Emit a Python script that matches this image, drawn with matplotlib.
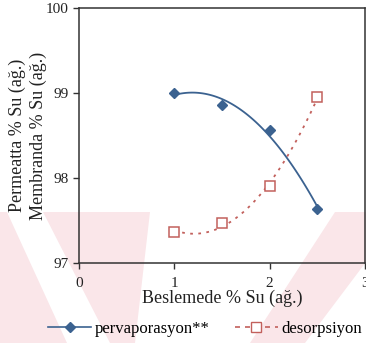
"""
Beslemedeki su oranına karşı permeat / membran su oranı grafiği
"""

import matplotlib
matplotlib.use("Agg")
import matplotlib.pyplot as plt
import numpy as np
from matplotlib.patches import Polygon, Rectangle

plt.rcParams["font.family"] = ["Liberation Serif", "DejaVu Serif"]

# veri
besleme = [1.0, 1.5, 2.0, 2.5]
pervaporasyon = [99.00, 98.86, 98.56, 97.64]
desorpsiyon = [97.37, 97.47, 97.90, 98.95]

x_ticks = [0, 1, 2, 3]
y_ticks = [97, 98, 99, 100]

BLUE = "#3b6290"
RED = "#c2605c"
PINK = "#fae6e9"

W, H = 366, 343
fig = plt.figure(figsize=(W / 100, H / 100), dpi=100)

# arka plandaki soluk filigran (pembe bant + beyaz bölgeler), piksel cinsinden
band = Rectangle((0, 0), 1, 1 - 212 / H, transform=fig.transFigure,
                 facecolor=PINK, edgecolor="none", zorder=-2)
fig.patches.append(band)
beyaz = [
    [(7, 212), (43, 212), (110, 343), (67, 343)],
    [(150, 212), (335, 212), (250, 343), (135, 343)],
    [(366, 262), (366, 343), (305, 343)],
]
for poly in beyaz:
    pts = [(px / W, 1 - py / H) for px, py in poly]
    fig.patches.append(Polygon(pts, closed=True, transform=fig.transFigure,
                               facecolor="white", edgecolor="none", zorder=-1))

ax = fig.add_axes([79 / W, 1 - 263 / H, 286 / W, 255 / H])
ax.set_facecolor("none")
ax.set_zorder(2)

# ikinci dereceden eğilim çizgileri
xs = np.linspace(besleme[0], besleme[-1], 100)
fit_p = np.polyval(np.polyfit(besleme, pervaporasyon, 2), xs)
fit_d = np.polyval(np.polyfit(besleme, desorpsiyon, 2), xs)
ax.plot(xs, fit_p, color=BLUE, lw=1.3, zorder=3)
ax.plot(xs, fit_d, color=RED, lw=1.3, dashes=(1.5, 3), zorder=3)

ax.plot(besleme, pervaporasyon, ls="none", marker="D", ms=5.5,
        color=BLUE, zorder=4)
ax.plot(besleme, desorpsiyon, ls="none", marker="s", ms=6.5,
        mfc="white", mec=RED, mew=1.1, zorder=4)

# lejant için
h1, = ax.plot([], [], color=BLUE, lw=1.2, marker="D", ms=5.5,
              label="pervaporasyon**")
h2, = ax.plot([], [], color=RED, lw=1.2, dashes=(3, 3), marker="s",
              ms=6.5, mfc="white", mec=RED, label="desorpsiyon")

ax.set_xlim(0, 3)
ax.set_ylim(97, 100)
ax.set_xticks(x_ticks)
ax.set_yticks(y_ticks)
ax.tick_params(labelsize=11, length=4, width=1, color="#333333",
               labelcolor="#222222")
ax.tick_params(axis="x", pad=6)
for s in ax.spines.values():
    s.set_color("#333333")
    s.set_linewidth(1.1)

ax.set_xlabel("Beslemede % Su (ağ.)", fontsize=13, labelpad=0, color="#222222")
ax.set_ylabel("Permeatta % Su (ağ.)\nMembranda % Su (ağ.)", fontsize=13,
              labelpad=-1, color="#222222", linespacing=1.25)

fig.legend(handles=[h1, h2], loc="center",
           bbox_to_anchor=(205 / W, 1 - 329 / H),
           ncol=2, frameon=False, fontsize=12, handlelength=2.6,
           columnspacing=1.5, handletextpad=0.2)

fig.savefig("out.png", dpi=100)
plt.close(fig)
